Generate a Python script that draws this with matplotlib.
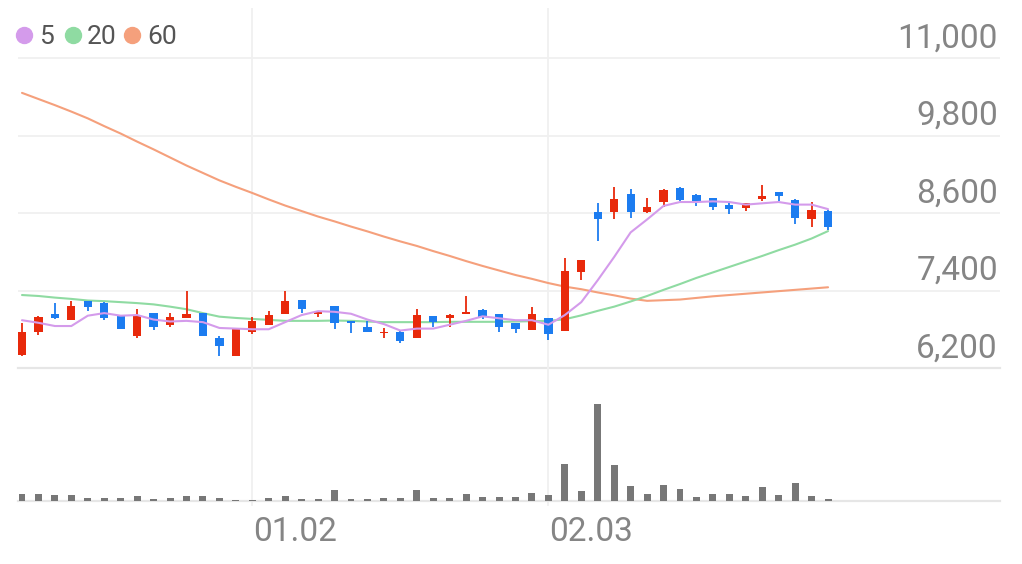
import matplotlib
matplotlib.use("Agg")
import matplotlib.pyplot as plt
import matplotlib.transforms as mtransforms
from matplotlib.lines import Line2D
import numpy as np

# ---------------- data ----------------
opens = [6400, 6760, 7040, 6940, 7230, 7200, 7000, 6700, 7050, 6870,
         6970, 7050, 6660, 6390, 6760, 6860, 7040, 7250, 7030, 7160,
         6930, 6840, 6740, 6760, 6660, 7000, 6980, 7030, 7100, 7030,
         6890, 6790, 6970, 6770, 7690, 8610, 8620, 8900, 8620, 8770,
         8980, 8880, 8830, 8720, 8670, 8820, 8930, 8800, 8500, 8630]
highs = [6900, 7000, 7200, 7240, 7230, 7220, 7000, 7110, 7050, 7050,
         7400, 7050, 6700, 6800, 6990, 7080, 7390, 7250, 7090, 7160,
         6930, 6930, 6820, 6770, 7110, 7010, 7040, 7310, 7120, 7040,
         6890, 7150, 6970, 7900, 7880, 8760, 9010, 8970, 8840, 8970,
         9010, 8900, 8840, 8790, 8760, 9030, 8930, 8810, 8770, 8640]
lows = [6390, 6710, 6960, 6940, 7090, 6940, 6810, 6660, 6790, 6830,
        6970, 6700, 6390, 6390, 6730, 6860, 7040, 7050, 6990, 6810,
        6740, 6750, 6670, 6580, 6660, 6840, 6830, 7030, 6960, 6760,
        6740, 6790, 6640, 6770, 7560, 8160, 8500, 8520, 8600, 8690,
        8790, 8710, 8650, 8590, 8630, 8790, 8790, 8430, 8380, 8340]
closes = [6760, 6990, 6970, 7160, 7150, 6970, 6810, 7000, 6840, 6990,
          7030, 6700, 6540, 6800, 6930, 7020, 7240, 7110, 7090, 6890,
          6890, 6750, 6760, 6620, 7020, 6920, 7020, 7070, 6990, 6830,
          6800, 7030, 6720, 7700, 7870, 8500, 8810, 8610, 8700, 8950,
          8800, 8770, 8690, 8660, 8750, 8870, 8870, 8520, 8640, 8380]
volumes = [73, 73, 57, 57, 27, 27, 33, 50, 20, 27,
           47, 50, 30, 13, 13, 33, 50, 23, 17, 110,
           20, 20, 27, 30, 107, 27, 33, 73, 40, 40,
           37, 83, 57, 373, 97, 973, 363, 150, 67, 157,
           120, 43, 73, 73, 53, 143, 60, 177, 47, 23]
ma5 = [6940, 6900, 6850, 6850, 7010, 7050, 7010, 7020, 6950, 6920,
       6930, 6910, 6820, 6810, 6800, 6800, 6910, 7020, 7080, 7070,
       7040, 6950, 6880, 6780, 6810, 6810, 6870, 6930, 7000, 6970,
       6940, 6940, 6870, 7020, 7220, 7560, 7920, 8300, 8500, 8710,
       8770, 8770, 8780, 8770, 8730, 8750, 8770, 8730, 8730, 8660]
ma20 = [7330, 7315, 7290, 7270, 7245, 7235, 7220, 7205, 7185, 7150,
        7110, 7050, 6995, 6975, 6960, 6945, 6930, 6930, 6930, 6935,
        6930, 6920, 6910, 6910, 6910, 6910, 6915, 6915, 6915, 6915,
        6920, 6925, 6930, 6955, 7015, 7085, 7150, 7230, 7315, 7410,
        7500, 7595, 7680, 7765, 7850, 7935, 8025, 8110, 8205, 8320]
ma60 = [10460, 10365, 10270, 10170, 10065, 9945, 9830, 9705, 9585, 9460,
        9335, 9220, 9105, 9005, 8910, 8810, 8715, 8630, 8545, 8470,
        8390, 8315, 8235, 8160, 8090, 8010, 7935, 7855, 7780, 7710,
        7640, 7580, 7515, 7460, 7420, 7370, 7325, 7275, 7240, 7250,
        7260, 7285, 7310, 7330, 7350, 7370, 7390, 7410, 7430, 7450]
y_ticks = [6200, 7400, 8600, 9800, 11000]
y_tick_labels = ["6,200", "7,400", "8,600", "9,800", "11,000"]
x_tick_pos = [14, 32]
x_tick_labels = ["01.02", "02.03"]
legend_labels = ["5", "20", "60"]

# ---------------- style ----------------
RED = "#E8290B"
BLUE = "#1C7CF0"
C5 = "#D49BEB"
C20 = "#8FDBA2"
C60 = "#F5A07C"
VOLC = "#777777"
GRID = "#F0F0F0"
BASE = "#E6E6E6"
LABEL = "#858585"
FONT = "Roboto"

W, H = 1022, 564
fig = plt.figure(figsize=(W / 100, H / 100), dpi=100)
fig.patch.set_facecolor("white")

def px_rect(x0, y0, x1, y1):
    return [x0 / W, 1 - y1 / H, (x1 - x0) / W, (y1 - y0) / H]

n = len(opens)
step = 16.45
xl = (18 - 22) / step
xr = (1000 - 22) / step

ax = fig.add_axes(px_rect(18, 8, 1000, 368))
axv = fig.add_axes(px_rect(18, 368, 1000, 501))
for a in (ax, axv):
    a.set_xlim(xl, xr)
    a.axis("off")

ax.set_ylim(6200, 6200 + 360 / 77.5 * 1200)
axv.set_ylim(0, 1330)

x = np.arange(n)
o = np.array(opens); c = np.array(closes)
hi = np.array(highs); lo = np.array(lows)
up = c >= o
cols = np.where(up, RED, BLUE)

# grid
for yv in y_ticks[1:]:
    ax.axhline(yv, color=GRID, lw=1.3, zorder=0)
ax.axhline(y_ticks[0], color=BASE, lw=1.6, zorder=0, clip_on=False)
for xp in x_tick_pos:
    ax.axvline(xp, color=GRID, lw=1.3, zorder=0)
    axv.axvline(xp, ymin=-0.03, ymax=1, color=GRID, lw=1.3, zorder=0, clip_on=False)
axv.axhline(0, color=BASE, lw=1.6, zorder=0, clip_on=False)

# MA lines
ax.plot(x, ma60, color=C60, lw=1.5, zorder=2, solid_capstyle="round")
ax.plot(x, ma20, color=C20, lw=1.5, zorder=2, solid_capstyle="round")

# candles
ax.vlines(x, lo, hi, colors=cols, lw=1.3, zorder=3)
body_bottom = np.minimum(o, c)
body_h = np.maximum(np.abs(c - o), 22)
ax.bar(x, body_h, bottom=body_bottom, width=0.5, color=cols, zorder=4, linewidth=0)

ax.plot(x, ma5, color=C5, lw=1.5, zorder=5, solid_capstyle="round")

# volume
axv.bar(x, volumes, width=0.42, color=VOLC, zorder=2, linewidth=0)

# y labels
trans = mtransforms.blended_transform_factory(ax.transAxes, ax.transData)
for yv, lab in zip(y_ticks, y_tick_labels):
    ax.annotate(lab, xy=(1, yv), xycoords=trans, xytext=(-1.5, 7.5),
                textcoords="offset points", ha="right", va="baseline",
                fontsize=24, color=LABEL, family=FONT)

# x labels
transx = mtransforms.blended_transform_factory(axv.transData, axv.transAxes)
for xp, lab in zip(x_tick_pos, x_tick_labels):
    axv.annotate(lab, xy=(xp, 0), xycoords=transx, xytext=(0.5, -28.5),
                 textcoords="offset points", ha="left", va="baseline",
                 fontsize=24, color=LABEL, family=FONT, annotation_clip=False)

# legend
dot_x = [23.7, 72.7, 131.7]
txt_x = [39, 87, 147]
for dx, tx, col, lab in zip(dot_x, txt_x, [C5, C20, C60], legend_labels):
    fig.add_artist(Line2D([dx / W], [1 - 35 / H], marker="o", ms=11.5,
                          color=col, mec=col, lw=0, transform=fig.transFigure))
    fig.text(tx / W, 1 - 44.5 / H, lab, fontsize=19, color="#555555",
             family=FONT, ha="left", va="baseline")

fig.savefig("out.png", dpi=100, facecolor="white")
